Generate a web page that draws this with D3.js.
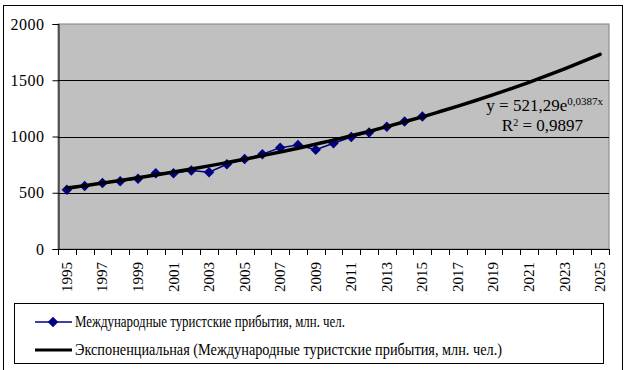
<!DOCTYPE html>
<html>
<head>
<meta charset="utf-8">
<script src="https://cdn.jsdelivr.net/npm/d3@7"></script>
<style>
    body { margin: 0; background: #fff; }
</style>
</head>
<body>
<div id="chart"></div>
<script>
// Международные туристские прибытия, млн. чел. (1995-2015) + экспоненциальный тренд до 2025
const years = d3.range(1995, 2026);
const arrivalYears = d3.range(1995, 2016);
const arrivals = [527, 561, 587, 602, 625, 674, 674, 697, 683, 753, 799, 842, 901, 924, 883, 940, 995, 1035, 1087, 1133, 1178];
const trend = [542, 563, 586, 609, 633, 658, 684, 711, 739, 768, 798, 830, 862, 896, 932, 968, 1007, 1046, 1088, 1131, 1175, 1222, 1270, 1320, 1372, 1426, 1482, 1541, 1602, 1665, 1730];
const yTicks = [0, 500, 1000, 1500, 2000];
const labelYears = years.filter(y => (y - 1995) % 2 === 0);

const seriesName = "Международные туристские прибытия, млн. чел.";
const trendName = "Экспоненциальная (Международные туристские прибытия, млн. чел.)";

const W = 632, H = 370;
const FONT = "Liberation Serif, DejaVu Serif, Noto Serif, serif";
const plot = {left: 58, top: 24, right: 609, bottom: 249};
const COLOURS = {
    PLOT_BG: "#c0c0c0",
    PLOT_BORDER: "#808080",
    SERIES: "#000080",
    TREND: "#000000"
};

const svg = d3.select("#chart").append("svg")
    .attr("width", W)
    .attr("height", H)
    .attr("font-family", FONT);

// outer chart border
svg.append("rect")
    .attr("x", 3.5).attr("y", 5.5)
    .attr("width", 619).attr("height", 380)
    .attr("fill", "#fff")
    .attr("stroke", "#000");

const x = d3.scaleBand().domain(years).range([plot.left, plot.right]).padding(0);
const y = d3.scaleLinear().domain([0, 2000]).range([plot.bottom, plot.top]);
const cx = d => x(d) + x.bandwidth() / 2;

// plot area
svg.append("rect")
    .attr("x", plot.left).attr("y", plot.top)
    .attr("width", plot.right - plot.left).attr("height", plot.bottom - plot.top)
    .attr("fill", COLOURS.PLOT_BG)
    .attr("stroke", COLOURS.PLOT_BORDER);

// gridlines
svg.append("g").selectAll("line")
    .data(yTicks.filter(v => v > 0 && v < 2000))
    .join("line")
    .attr("x1", plot.left).attr("x2", plot.right)
    .attr("y1", d => Math.round(y(d)) + 0.5).attr("y2", d => Math.round(y(d)) + 0.5)
    .attr("stroke", "#000");

// y axis
const yAxis = svg.append("g")
    .attr("transform", `translate(${plot.left + 0.5},0)`)
    .call(d3.axisLeft(y).tickValues(yTicks).tickSize(6).tickPadding(8).tickFormat(d3.format("d")));
yAxis.attr("font-family", FONT).attr("font-size", 16);
yAxis.select(".domain").attr("stroke", "#000");
yAxis.selectAll("text").attr("font-family", FONT).style("letter-spacing", "0.5px");

// x axis: ticks at category boundaries
const xg = svg.append("g");
xg.append("line")
    .attr("x1", plot.left).attr("x2", plot.right)
    .attr("y1", plot.bottom + 0.5).attr("y2", plot.bottom + 0.5)
    .attr("stroke", "#000");
xg.selectAll(".tick")
    .data(years.concat([null]))
    .join("line")
    .attr("class", "tick")
    .attr("x1", d => Math.round(d === null ? plot.right : x(d)) + 0.5)
    .attr("x2", d => Math.round(d === null ? plot.right : x(d)) + 0.5)
    .attr("y1", plot.bottom).attr("y2", plot.bottom + 6)
    .attr("stroke", "#000");
xg.selectAll(".xlabel")
    .data(labelYears)
    .join("text")
    .attr("class", "xlabel")
    .attr("transform", d => `translate(${cx(d) + 5},${plot.bottom + 13}) rotate(-90)`)
    .attr("text-anchor", "end")
    .attr("font-family", FONT)
    .attr("font-size", 15)
    .text(d => d);

// series line + markers
const line = d3.line()
    .x(d => cx(d.year))
    .y(d => y(d.value));
const seriesData = arrivalYears.map((yr, i) => ({year: yr, value: arrivals[i]}));
svg.append("path")
    .datum(seriesData)
    .attr("fill", "none")
    .attr("stroke", COLOURS.SERIES)
    .attr("stroke-width", 1.5)
    .attr("d", line);

const diamond = d3.symbol().type(d3.symbolDiamond2).size(70);
svg.append("g").selectAll("path")
    .data(seriesData)
    .join("path")
    .attr("transform", d => `translate(${cx(d.year)},${y(d.value)})`)
    .attr("d", diamond)
    .attr("fill", COLOURS.SERIES);

// exponential trend
const trendData = years.map((yr, i) => ({year: yr, value: trend[i]}));
svg.append("path")
    .datum(trendData)
    .attr("fill", "none")
    .attr("stroke", COLOURS.TREND)
    .attr("stroke-width", 3.5)
    .attr("stroke-linecap", "round")
    .attr("d", line.curve(d3.curveMonotoneX));

// equation label
const eq = svg.append("text")
    .attr("x", 603).attr("y", 111)
    .attr("text-anchor", "end")
    .attr("font-family", FONT)
    .attr("font-size", 17);
eq.append("tspan").text("y = 521,29e");
eq.append("tspan").attr("dy", -6).attr("font-size", 11).text("0,0387x");
const r2 = svg.append("text")
    .attr("x", 583).attr("y", 131)
    .attr("text-anchor", "end")
    .attr("font-family", FONT)
    .attr("font-size", 17);
r2.append("tspan").text("R");
r2.append("tspan").attr("dy", -5).attr("font-size", 10).text("2");
r2.append("tspan").attr("dy", 5).text(" = 0,9897");

// legend
const legend = svg.append("g");
legend.append("rect")
    .attr("x", 14.5).attr("y", 303.5)
    .attr("width", 589).attr("height", 60)
    .attr("fill", "#fff")
    .attr("stroke", "#000");

legend.append("line")
    .attr("x1", 35).attr("x2", 72).attr("y1", 322).attr("y2", 322)
    .attr("stroke", COLOURS.SERIES).attr("stroke-width", 1.5);
legend.append("path")
    .attr("transform", "translate(53,322)")
    .attr("d", diamond)
    .attr("fill", COLOURS.SERIES);
legend.append("text")
    .attr("x", 75).attr("y", 327)
    .attr("textLength", 270).attr("lengthAdjust", "spacingAndGlyphs")
    .attr("font-family", FONT)
    .attr("font-size", 17)
    .text(seriesName);

legend.append("line")
    .attr("x1", 35).attr("x2", 72).attr("y1", 350).attr("y2", 350)
    .attr("stroke", COLOURS.TREND).attr("stroke-width", 3);
legend.append("text")
    .attr("x", 75).attr("y", 355)
    .attr("textLength", 427).attr("lengthAdjust", "spacingAndGlyphs")
    .attr("font-family", FONT)
    .attr("font-size", 17)
    .text(trendName);
</script>
</body>
</html>
